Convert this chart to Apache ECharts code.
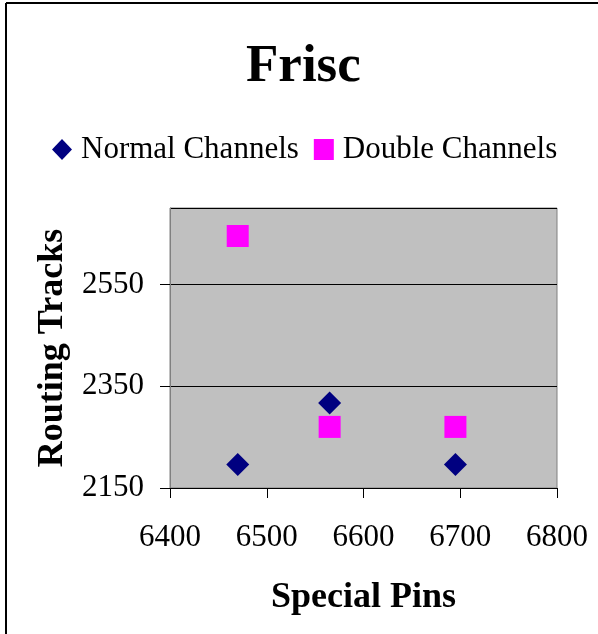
<!DOCTYPE html>
<html>
<head>
<meta charset="utf-8">
<script src="https://cdn.jsdelivr.net/npm/echarts@6/dist/echarts.min.js"></script>
<style>
  html, body { margin: 0; padding: 0; background: #fff; }
  #chart { width: 598px; height: 634px; }
</style>
</head>
<body>
<div id="chart"></div>
<script>
// Routing tracks needed vs. number of special pins for the Frisc benchmark
const specialPins = [6470, 6565, 6695];
const normalChannels = [2196, 2317, 2196];
const doubleChannels = [2645, 2270, 2270];
const seriesNames = ['Normal Channels', 'Double Channels'];

const serif = '"Liberation Serif", "Times New Roman", serif';

const toPairs = (xs, ys) => xs.map((x, i) => [x, ys[i]]);
const plain = v => String(v);

const chart = echarts.init(document.getElementById('chart'));
chart.setOption({
  animation: false,
  backgroundColor: '#ffffff',
  title: {
    text: 'Frisc',
    left: 246,
    top: 41,
    padding: 0,
    textStyle: { fontFamily: serif, fontWeight: 'bold', fontSize: 53, color: '#000' }
  },
  legend: {
    data: [
      { name: seriesNames[0], icon: 'diamond' },
      { name: seriesNames[1], icon: 'rect' }
    ],
    left: 52,
    top: 134,
    padding: 0,
    itemWidth: 20,
    itemHeight: 21,
    itemGap: 15,
    textStyle: { fontFamily: serif, fontSize: 31, color: '#000', padding: [0, 0, 0, 4] }
  },
  grid: {
    left: 170, right: 41, top: 208, bottom: 146,
    show: true,
    backgroundColor: '#c0c0c0',
    borderColor: '#808080',
    borderWidth: 1
  },
  xAxis: {
    type: 'value',
    min: 6400, max: 6800, interval: 100,
    name: 'Special Pins',
    nameLocation: 'middle',
    nameGap: 92,
    nameTextStyle: { fontFamily: serif, fontWeight: 'bold', fontSize: 36, color: '#000' },
    axisLine: { show: true, lineStyle: { color: '#000', width: 1 } },
    axisTick: { show: true, inside: false, length: 10, lineStyle: { color: '#000' } },
    axisLabel: { margin: 34, fontFamily: serif, fontSize: 31, color: '#000', formatter: plain },
    splitLine: { show: false }
  },
  yAxis: {
    type: 'value',
    min: 2150, max: 2700, interval: 200,
    name: 'Routing Tracks',
    nameLocation: 'middle',
    nameGap: 99,
    nameRotate: 90,
    nameTextStyle: { fontFamily: serif, fontWeight: 'bold', fontSize: 36, color: '#000' },
    axisLine: { show: true, lineStyle: { color: '#808080', width: 1 } },
    axisTick: { show: true, inside: false, length: 10, lineStyle: { color: '#000' } },
    axisLabel: {
      margin: 26, fontFamily: serif, fontSize: 31, color: '#000',
      showMaxLabel: false, formatter: plain
    },
    splitLine: { show: true, lineStyle: { color: '#000', width: 1 } }
  },
  series: [
    {
      name: seriesNames[0],
      type: 'scatter',
      symbol: 'diamond',
      symbolSize: 23,
      itemStyle: { color: '#000080', opacity: 1 },
      data: toPairs(specialPins, normalChannels)
    },
    {
      name: seriesNames[1],
      type: 'scatter',
      symbol: 'rect',
      symbolSize: 22,
      itemStyle: { color: '#ff00ff', opacity: 1 },
      data: toPairs(specialPins, doubleChannels)
    }
  ],
  graphic: [
    { type: 'line', shape: { x1: 6, y1: 3, x2: 598, y2: 3 }, style: { stroke: '#000', lineWidth: 2 } },
    { type: 'line', shape: { x1: 6, y1: 3, x2: 6, y2: 634 }, style: { stroke: '#000', lineWidth: 2 } }
  ]
});
</script>
</body>
</html>
